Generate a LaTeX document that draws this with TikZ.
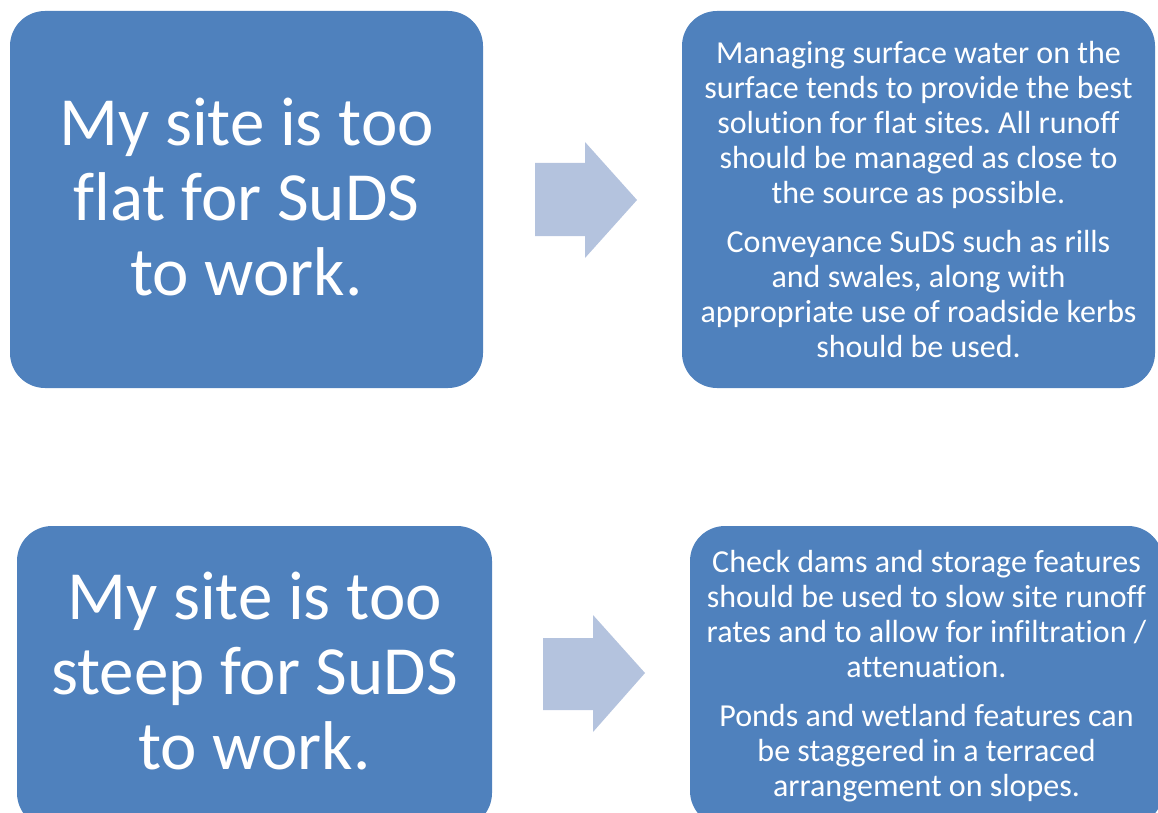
\documentclass[tikz,border=0pt]{standalone}
\usepackage{fontspec}
\setmainfont[Ligatures={NoCommon}]{Carlito}
\frenchspacing
\definecolor{boxblue}{RGB}{79,129,189}
\definecolor{arrowblue}{RGB}{180,195,222}
\tikzset{
  box/.style={fill=boxblue, draw=none, rounded corners=35pt, inner sep=0pt},
  boxtext/.style={text=white, align=center, inner sep=0pt},
  bigtext/.style={boxtext, font=\fontsize{69}{75}\selectfont},
  smalltext/.style={boxtext, font=\fontsize{32}{35}\selectfont},
  blockarrow/.style={fill=arrowblue, draw=none}
}
\begin{document}
\begin{tikzpicture}[x=1pt,y=-1pt]
\useasboundingbox (0,0) rectangle (1158,813);
\clip (0,0) rectangle (1158,813);
% top row
\node[box, minimum width=473pt, minimum height=377pt] (tl) at (246.5,199.5) {};
\node[bigtext] (tlt) at (246.5,197) {My site is too\\flat for SuDS\\to work.};
\node[box, minimum width=473pt, minimum height=377pt] (tr) at (918.5,199.5) {};
\node[smalltext] (trt) at (918.5,199.5)
  {Managing surface water on the\\surface tends to provide the best\\solution for flat sites. All runoff\\should be managed as close to\\the source as possible.\\[14pt]Conveyance SuDS such as rills\\and swales, along with\\appropriate use of roadside kerbs\\should be used.};
\path[blockarrow] (535,163) -- (585,163) -- (585,142) -- (637,200) -- (585,258) -- (585,236) -- (535,236) -- cycle;
% bottom row
\node[box, minimum width=475pt, minimum height=302pt] (bl) at (254.5,677) {};
\node[bigtext] (blt) at (254.5,671) {My site is too\\steep for SuDS\\to work.};
\node[box, minimum width=473pt, minimum height=300pt] (br) at (926.5,676) {};
\node[smalltext] (brt) at (926.5,676.5)
  {Check dams and storage features\\should be used to slow site runoff\\rates and to allow for infiltration /\\attenuation.\\[14pt]Ponds and wetland features can\\be staggered in a terraced\\arrangement on slopes.};
\path[blockarrow] (543,638) -- (593,638) -- (593,615) -- (645,673) -- (593,732) -- (593,710) -- (543,710) -- cycle;
\end{tikzpicture}
\end{document}
